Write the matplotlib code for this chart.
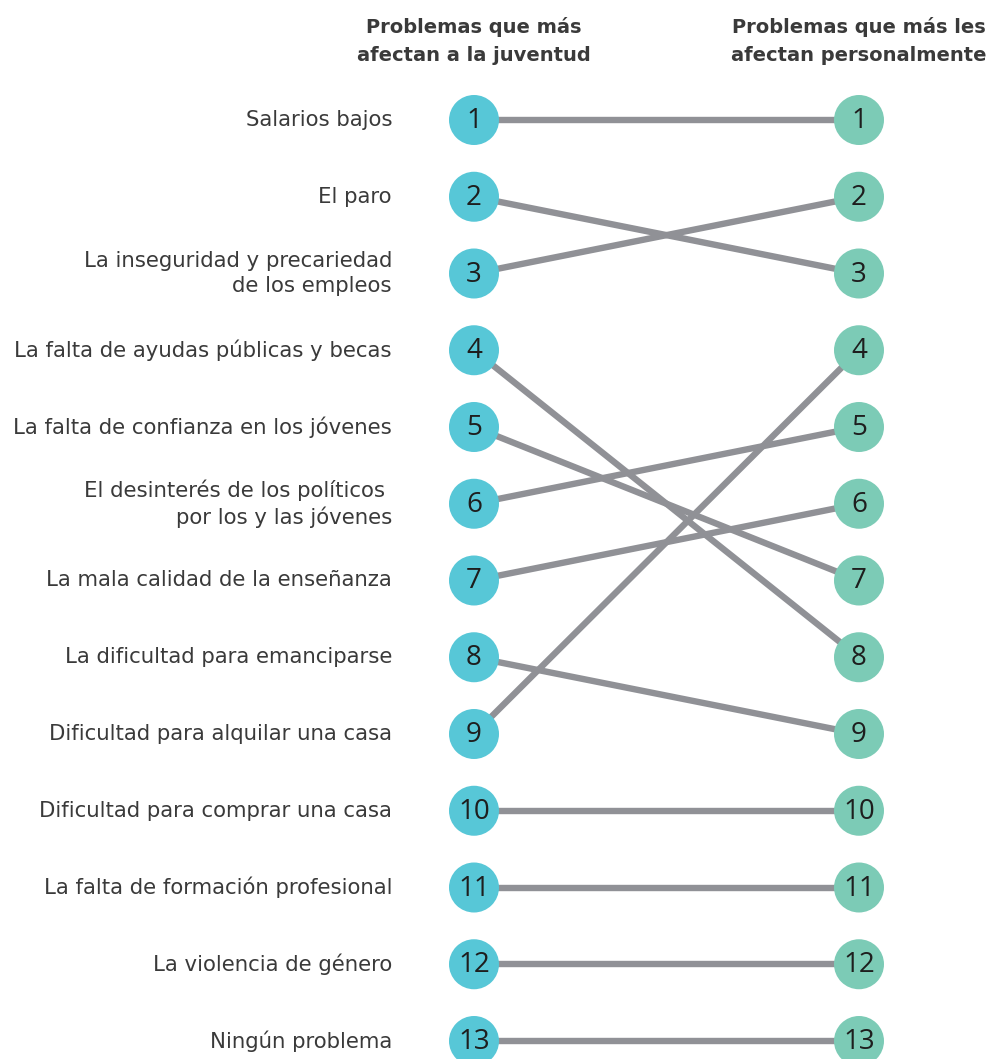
import matplotlib.pyplot as plt
from matplotlib.patches import Circle

# problems in the order of the "juventud" ranking
PROBLEMS = [
    "Salarios bajos",
    "El paro",
    "La inseguridad y precariedad\nde los empleos",
    "La falta de ayudas públicas y becas",
    "La falta de confianza en los jóvenes",
    "El desinterés de los políticos \npor los y las jóvenes",
    "La mala calidad de la enseñanza",
    "La dificultad para emanciparse",
    "Dificultad para alquilar una casa",
    "Dificultad para comprar una casa",
    "La falta de formación profesional",
    "La violencia de género",
    "Ningún problema",
]
RANK_JUVENTUD = [1, 2, 3, 4, 5, 6, 7, 8, 9, 10, 11, 12, 13]
RANK_PERSONAL = [1, 3, 2, 8, 7, 5, 6, 9, 4, 10, 11, 12, 13]
HEADERS = [
    "Problemas que más\nafectan a la juventud",
    "Problemas que más les\nafectan personalmente",
]

LEFT_COLOR = "#57c7d7"
RIGHT_COLOR = "#7ccbb6"
LINE_COLOR = "#909196"
TEXT_COLOR = "#3a3a3a"

W, H = 990, 1059
X_LEFT, X_RIGHT, X_LABEL = 474, 859, 392
Y_TOP, ROW_STEP = 120, 76.75
RADIUS = 25


def row_y(rank):
    return Y_TOP + (rank - 1) * ROW_STEP


fig = plt.figure(figsize=(W / 100, H / 100), dpi=100)
ax = fig.add_axes([0, 0, 1, 1])
ax.set_xlim(0, W)
ax.set_ylim(H, 0)
ax.axis("off")

for name, r_left, r_right in zip(PROBLEMS, RANK_JUVENTUD, RANK_PERSONAL):
    y0, y1 = row_y(r_left), row_y(r_right)
    ax.plot([X_LEFT, X_RIGHT], [y0, y1], color=LINE_COLOR, lw=4.6,
            solid_capstyle="butt", zorder=1)
    ax.text(X_LABEL, y0, name, ha="right", va="center", fontsize=15.3,
            family="DejaVu Sans", color=TEXT_COLOR, linespacing=1.3)

for ranks, x, color in [(RANK_JUVENTUD, X_LEFT, LEFT_COLOR),
                        (RANK_PERSONAL, X_RIGHT, RIGHT_COLOR)]:
    for r in ranks:
        ax.add_patch(Circle((x, row_y(r)), RADIUS, color=color, lw=0, zorder=2))
        ax.text(x, row_y(r) + 1, str(r), ha="center", va="center", fontsize=20,
                family="Open Sans", color="#1e1e1e", zorder=3)

for header, x in zip(HEADERS, [X_LEFT, X_RIGHT]):
    ax.text(x, 41, header, ha="center", va="center", fontsize=14,
            family="DejaVu Sans", weight="bold", color=TEXT_COLOR,
            linespacing=1.62)

fig.savefig("out.png", dpi=100)
